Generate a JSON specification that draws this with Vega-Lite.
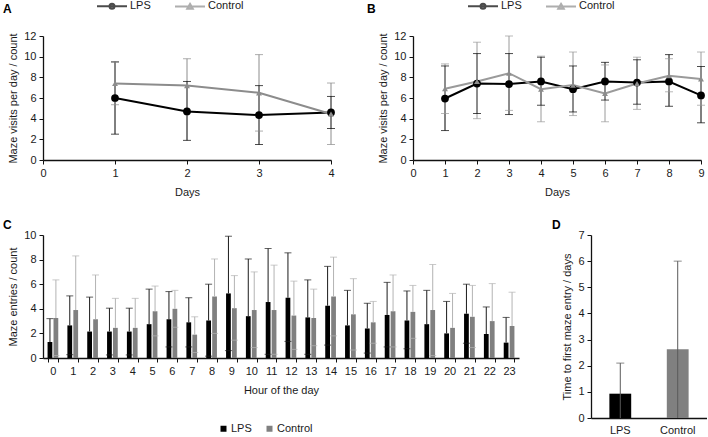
{
"$schema": "https://vega.github.io/schema/vega-lite/v6.json",
"padding": {"left": 3, "top": 0, "right": 0, "bottom": 0},
"config": {
  "font": "Liberation Sans",
  "view": {"stroke": null},
  "axis": {"grid": false, "domainColor": "#111111", "tickColor": "#111111", "labelColor": "#1a1a1a", "titleColor": "#1a1a1a", "labelFontSize": 11, "titleFontSize": 11, "titleFontWeight": "normal", "tickSize": 4, "labelPadding": 3, "domainWidth": 1.3, "titlePadding": 5, "labelOverlap": false, "labelFlush": false},
  "title": {"fontSize": 12, "fontWeight": "bold", "anchor": "start", "frame": "group", "color": "#000000"},
  "legend": {"labelFontSize": 11, "labelColor": "#1a1a1a", "padding": 0}
},
"datasets": {
  "a": [
    {"day": 1, "group": "LPS", "mean": 6.0, "lo": 2.5, "hi": 9.5},
    {"day": 2, "group": "LPS", "mean": 4.7, "lo": 1.9, "hi": 7.6},
    {"day": 3, "group": "LPS", "mean": 4.35, "lo": 1.5, "hi": 7.2},
    {"day": 4, "group": "LPS", "mean": 4.6, "lo": 3.05, "hi": 6.15},
    {"day": 1, "group": "Control", "mean": 7.4, "lo": 5.35, "hi": 9.45},
    {"day": 2, "group": "Control", "mean": 7.2, "lo": 4.6, "hi": 9.8},
    {"day": 3, "group": "Control", "mean": 6.5, "lo": 2.8, "hi": 10.2},
    {"day": 4, "group": "Control", "mean": 4.45, "lo": 1.5, "hi": 7.45}
  ],
  "b": [
    {"day": 1, "group": "LPS", "mean": 5.95, "lo": 2.85, "hi": 9.1},
    {"day": 2, "group": "LPS", "mean": 7.4, "lo": 4.5, "hi": 10.3},
    {"day": 3, "group": "LPS", "mean": 7.35, "lo": 4.4, "hi": 10.3},
    {"day": 4, "group": "LPS", "mean": 7.6, "lo": 5.3, "hi": 9.95},
    {"day": 5, "group": "LPS", "mean": 6.85, "lo": 4.65, "hi": 9.1},
    {"day": 6, "group": "LPS", "mean": 7.6, "lo": 5.8, "hi": 9.45},
    {"day": 7, "group": "LPS", "mean": 7.5, "lo": 5.4, "hi": 9.7},
    {"day": 8, "group": "LPS", "mean": 7.6, "lo": 5.2, "hi": 10.2},
    {"day": 9, "group": "LPS", "mean": 6.25, "lo": 3.6, "hi": 9.05},
    {"day": 1, "group": "Control", "mean": 6.9, "lo": 4.5, "hi": 9.3},
    {"day": 2, "group": "Control", "mean": 7.6, "lo": 4.0, "hi": 11.4},
    {"day": 3, "group": "Control", "mean": 8.4, "lo": 4.8, "hi": 12.0},
    {"day": 4, "group": "Control", "mean": 6.85, "lo": 3.7, "hi": 10.05},
    {"day": 5, "group": "Control", "mean": 7.25, "lo": 4.3, "hi": 10.45},
    {"day": 6, "group": "Control", "mean": 6.45, "lo": 3.7, "hi": 9.2},
    {"day": 7, "group": "Control", "mean": 7.4, "lo": 4.9, "hi": 9.95},
    {"day": 8, "group": "Control", "mean": 8.15, "lo": 6.6, "hi": 9.8},
    {"day": 9, "group": "Control", "mean": 7.85, "lo": 5.3, "hi": 10.45}
  ],
  "c": [
    {"hour": 0, "group": "LPS", "mean": 1.3, "hi": 3.2, "lo": null},
    {"hour": 0, "group": "Control", "mean": 3.25, "hi": 6.35, "lo": 0.2},
    {"hour": 1, "group": "LPS", "mean": 2.65, "hi": 5.05, "lo": 0.27},
    {"hour": 1, "group": "Control", "mean": 3.9, "hi": 8.3, "lo": null},
    {"hour": 2, "group": "LPS", "mean": 2.15, "hi": 4.95, "lo": null},
    {"hour": 2, "group": "Control", "mean": 3.15, "hi": 6.75, "lo": null},
    {"hour": 3, "group": "LPS", "mean": 2.15, "hi": 4.05, "lo": 0.25},
    {"hour": 3, "group": "Control", "mean": 2.45, "hi": 4.85, "lo": null},
    {"hour": 4, "group": "LPS", "mean": 2.15, "hi": 4.05, "lo": 0.25},
    {"hour": 4, "group": "Control", "mean": 2.45, "hi": 4.85, "lo": null},
    {"hour": 5, "group": "LPS", "mean": 2.75, "hi": 5.6, "lo": null},
    {"hour": 5, "group": "Control", "mean": 3.8, "hi": 5.85, "lo": 1.8},
    {"hour": 6, "group": "LPS", "mean": 3.15, "hi": 5.4, "lo": 0.9},
    {"hour": 6, "group": "Control", "mean": 4.0, "hi": 5.5, "lo": 2.5},
    {"hour": 7, "group": "LPS", "mean": 2.9, "hi": 4.9, "lo": 0.9},
    {"hour": 7, "group": "Control", "mean": 1.9, "hi": 3.35, "lo": 0.45},
    {"hour": 8, "group": "LPS", "mean": 3.05, "hi": 6.0, "lo": 0.15},
    {"hour": 8, "group": "Control", "mean": 5.0, "hi": 8.05, "lo": 2.0},
    {"hour": 9, "group": "LPS", "mean": 5.25, "hi": 9.9, "lo": 0.6},
    {"hour": 9, "group": "Control", "mean": 4.05, "hi": 6.7, "lo": 1.45},
    {"hour": 10, "group": "LPS", "mean": 3.4, "hi": 8.05, "lo": null},
    {"hour": 10, "group": "Control", "mean": 3.9, "hi": 7.0, "lo": 0.85},
    {"hour": 11, "group": "LPS", "mean": 4.55, "hi": 8.9, "lo": 0.3},
    {"hour": 11, "group": "Control", "mean": 3.9, "hi": 7.55, "lo": 0.3},
    {"hour": 12, "group": "LPS", "mean": 4.9, "hi": 8.55, "lo": 1.35},
    {"hour": 12, "group": "Control", "mean": 3.45, "hi": 6.25, "lo": 0.7},
    {"hour": 13, "group": "LPS", "mean": 3.3, "hi": 6.35, "lo": 0.3},
    {"hour": 13, "group": "Control", "mean": 3.25, "hi": 5.6, "lo": 1.0},
    {"hour": 14, "group": "LPS", "mean": 4.25, "hi": 7.45, "lo": 1.05},
    {"hour": 14, "group": "Control", "mean": 5.0, "hi": 8.2, "lo": 1.8},
    {"hour": 15, "group": "LPS", "mean": 2.65, "hi": 5.5, "lo": null},
    {"hour": 15, "group": "Control", "mean": 3.55, "hi": 6.45, "lo": 0.65},
    {"hour": 16, "group": "LPS", "mean": 2.4, "hi": 4.45, "lo": 0.4},
    {"hour": 16, "group": "Control", "mean": 2.9, "hi": 4.6, "lo": 1.2},
    {"hour": 17, "group": "LPS", "mean": 3.5, "hi": 6.15, "lo": 0.9},
    {"hour": 17, "group": "Control", "mean": 3.8, "hi": 6.75, "lo": 0.9},
    {"hour": 18, "group": "LPS", "mean": 3.05, "hi": 5.45, "lo": 0.75},
    {"hour": 18, "group": "Control", "mean": 3.75, "hi": 5.9, "lo": 1.6},
    {"hour": 19, "group": "LPS", "mean": 2.75, "hi": 5.5, "lo": null},
    {"hour": 19, "group": "Control", "mean": 3.9, "hi": 7.6, "lo": 0.2},
    {"hour": 20, "group": "LPS", "mean": 2.0, "hi": 4.6, "lo": null},
    {"hour": 20, "group": "Control", "mean": 2.45, "hi": 5.25, "lo": null},
    {"hour": 21, "group": "LPS", "mean": 3.6, "hi": 6.0, "lo": 1.2},
    {"hour": 21, "group": "Control", "mean": 3.35, "hi": 5.9, "lo": 0.85},
    {"hour": 22, "group": "LPS", "mean": 1.95, "hi": 4.15, "lo": null},
    {"hour": 22, "group": "Control", "mean": 3.0, "hi": 6.05, "lo": null},
    {"hour": 23, "group": "LPS", "mean": 1.25, "hi": 3.3, "lo": null},
    {"hour": 23, "group": "Control", "mean": 2.6, "hi": 5.35, "lo": null}
  ],
  "d": [
    {"group": "LPS", "mean": 0.93, "lo": 0, "hi": 2.1},
    {"group": "Control", "mean": 2.63, "lo": 0, "hi": 6.0}
  ]
},
"resolve": {"scale": {"color": "independent", "fill": "independent", "stroke": "independent", "shape": "independent"}, "legend": {"color": "independent", "fill": "independent", "stroke": "independent", "shape": "independent"}},
"spacing": 22,
"vconcat": [
  {
    "spacing": 32,
    "resolve": {"scale": {"color": "independent", "fill": "independent", "stroke": "independent", "shape": "independent"}, "legend": {"color": "independent", "fill": "independent", "stroke": "independent", "shape": "independent"}},
    "hconcat": [
      {
        "width": 288, "height": 124,
        "title": {"text": "A", "dx": -40, "offset": -16},
        "data": {"name": "a"},
        "encoding": {
          "x": {"field": "day", "type": "quantitative", "scale": {"domain": [0, 4], "nice": false}, "axis": {"values": [0, 1, 2, 3, 4], "format": "d", "titlePadding": 8, "labelOverlap": false}, "title": "Days"}
        },
        "layer": [
          {
            "transform": [{"filter": "false"}],
            "mark": {"type": "point", "filled": true, "strokeWidth": 2},
            "encoding": {
              "x": {"value": 0},
              "fill": {"field": "group", "type": "nominal", "scale": {"domain": ["LPS", "Control"], "range": ["#000000", "#8c8c8c"]}, "legend": {"orient": "none", "legendX": 53, "legendY": -36, "direction": "horizontal", "title": null, "symbolSize": 100, "symbolStrokeWidth": 2, "labelOffset": 22, "columnPadding": 20}},
              "stroke": {"field": "group", "type": "nominal", "scale": {"domain": ["LPS", "Control"], "range": ["#000000", "#8c8c8c"]}, "legend": {"orient": "none", "legendX": 53, "legendY": -36, "direction": "horizontal", "title": null, "symbolSize": 100, "symbolStrokeWidth": 2, "labelOffset": 22, "columnPadding": 20}},
              "shape": {"field": "group", "type": "nominal", "scale": {"domain": ["LPS", "Control"], "range": ["M-1,0H5M2.5,0A0.5,0.5,0,1,1,1.5,0A0.5,0.5,0,1,1,2.5,0Z", "M-1,0H5M2,-0.5L2.55,0.45L1.45,0.45Z"]}, "legend": {"orient": "none", "legendX": 53, "legendY": -36, "direction": "horizontal", "title": null, "symbolSize": 100, "symbolStrokeWidth": 2, "labelOffset": 22, "columnPadding": 20}}
            }
          },
          {
            "mark": {"type": "rule", "strokeWidth": 1},
            "encoding": {
              "y": {"field": "lo", "type": "quantitative", "scale": {"domain": [0, 12], "nice": false}, "axis": {"values": [0, 2, 4, 6, 8, 10, 12], "format": "d", "labelOverlap": false}, "title": "Maze visits per day / count"},
              "y2": {"field": "hi"},
              "color": {"field": "group", "type": "nominal", "scale": {"domain": ["LPS", "Control"], "range": ["#000000", "#8c8c8c"]}, "legend": null}
            }
          },
          {
            "mark": {"type": "tick", "orient": "horizontal", "size": 8, "thickness": 1},
            "encoding": {
              "y": {"field": "hi", "type": "quantitative", "axis": {"values": [0, 2, 4, 6, 8, 10, 12], "format": "d", "labelOverlap": false}, "title": "Maze visits per day / count"},
              "color": {"field": "group", "type": "nominal", "legend": null}
            }
          },
          {
            "mark": {"type": "tick", "orient": "horizontal", "size": 8, "thickness": 1},
            "encoding": {
              "y": {"field": "lo", "type": "quantitative", "axis": {"values": [0, 2, 4, 6, 8, 10, 12], "format": "d", "labelOverlap": false}, "title": "Maze visits per day / count"},
              "color": {"field": "group", "type": "nominal", "legend": null}
            }
          },
          {
            "mark": {"type": "line", "strokeWidth": 2},
            "encoding": {
              "y": {"field": "mean", "type": "quantitative", "axis": {"values": [0, 2, 4, 6, 8, 10, 12], "format": "d", "labelOverlap": false}, "title": "Maze visits per day / count"},
              "color": {"field": "group", "type": "nominal", "legend": null}
            }
          },
          {
            "transform": [{"filter": "datum.group === 'LPS'"}],
            "mark": {"type": "point", "shape": "circle", "filled": true, "size": 60, "color": "#000000", "opacity": 1},
            "encoding": {
              "y": {"field": "mean", "type": "quantitative", "axis": {"values": [0, 2, 4, 6, 8, 10, 12], "format": "d", "labelOverlap": false}, "title": "Maze visits per day / count"}
            }
          },
          {
            "transform": [{"filter": "datum.group === 'Control'"}],
            "mark": {"type": "point", "shape": "triangle-up", "filled": true, "size": 35, "color": "#8c8c8c", "opacity": 1},
            "encoding": {
              "y": {"field": "mean", "type": "quantitative", "axis": {"values": [0, 2, 4, 6, 8, 10, 12], "format": "d", "labelOverlap": false}, "title": "Maze visits per day / count"}
            }
          }
        ]
      },
      {
        "width": 288, "height": 124,
        "title": {"text": "B", "dx": -46, "offset": -16},
        "data": {"name": "b"},
        "encoding": {
          "x": {"field": "day", "type": "quantitative", "scale": {"domain": [0, 9], "nice": false}, "axis": {"values": [0, 1, 2, 3, 4, 5, 6, 7, 8, 9], "format": "d", "titlePadding": 8, "labelOverlap": false}, "title": "Days"}
        },
        "layer": [
          {
            "transform": [{"filter": "false"}],
            "mark": {"type": "point", "filled": true, "strokeWidth": 2},
            "encoding": {
              "x": {"value": 0},
              "fill": {"field": "group", "type": "nominal", "scale": {"domain": ["LPS", "Control"], "range": ["#000000", "#8c8c8c"]}, "legend": {"orient": "none", "legendX": 54, "legendY": -36, "direction": "horizontal", "title": null, "symbolSize": 100, "symbolStrokeWidth": 2, "labelOffset": 22, "columnPadding": 20}},
              "stroke": {"field": "group", "type": "nominal", "scale": {"domain": ["LPS", "Control"], "range": ["#000000", "#8c8c8c"]}, "legend": {"orient": "none", "legendX": 54, "legendY": -36, "direction": "horizontal", "title": null, "symbolSize": 100, "symbolStrokeWidth": 2, "labelOffset": 22, "columnPadding": 20}},
              "shape": {"field": "group", "type": "nominal", "scale": {"domain": ["LPS", "Control"], "range": ["M-1,0H5M2.5,0A0.5,0.5,0,1,1,1.5,0A0.5,0.5,0,1,1,2.5,0Z", "M-1,0H5M2,-0.5L2.55,0.45L1.45,0.45Z"]}, "legend": {"orient": "none", "legendX": 54, "legendY": -36, "direction": "horizontal", "title": null, "symbolSize": 100, "symbolStrokeWidth": 2, "labelOffset": 22, "columnPadding": 20}}
            }
          },
          {
            "mark": {"type": "rule", "strokeWidth": 1},
            "encoding": {
              "y": {"field": "lo", "type": "quantitative", "scale": {"domain": [0, 12], "nice": false}, "axis": {"values": [0, 2, 4, 6, 8, 10, 12], "format": "d", "labelOverlap": false}, "title": "Maze visits per day / count"},
              "y2": {"field": "hi"},
              "color": {"field": "group", "type": "nominal", "scale": {"domain": ["LPS", "Control"], "range": ["#000000", "#9a9a9a"]}, "legend": null}
            }
          },
          {
            "mark": {"type": "tick", "orient": "horizontal", "size": 8, "thickness": 1},
            "encoding": {
              "y": {"field": "hi", "type": "quantitative", "axis": {"values": [0, 2, 4, 6, 8, 10, 12], "format": "d", "labelOverlap": false}, "title": "Maze visits per day / count"},
              "color": {"field": "group", "type": "nominal", "legend": null}
            }
          },
          {
            "mark": {"type": "tick", "orient": "horizontal", "size": 8, "thickness": 1},
            "encoding": {
              "y": {"field": "lo", "type": "quantitative", "axis": {"values": [0, 2, 4, 6, 8, 10, 12], "format": "d", "labelOverlap": false}, "title": "Maze visits per day / count"},
              "color": {"field": "group", "type": "nominal", "legend": null}
            }
          },
          {
            "mark": {"type": "line", "strokeWidth": 2},
            "encoding": {
              "y": {"field": "mean", "type": "quantitative", "axis": {"values": [0, 2, 4, 6, 8, 10, 12], "format": "d", "labelOverlap": false}, "title": "Maze visits per day / count"},
              "color": {"field": "group", "type": "nominal", "legend": null}
            }
          },
          {
            "transform": [{"filter": "datum.group === 'LPS'"}],
            "mark": {"type": "point", "shape": "circle", "filled": true, "size": 60, "color": "#000000", "opacity": 1},
            "encoding": {
              "y": {"field": "mean", "type": "quantitative", "axis": {"values": [0, 2, 4, 6, 8, 10, 12], "format": "d", "labelOverlap": false}, "title": "Maze visits per day / count"}
            }
          },
          {
            "transform": [{"filter": "datum.group === 'Control'"}],
            "mark": {"type": "point", "shape": "triangle-up", "filled": true, "size": 35, "color": "#8c8c8c", "opacity": 1},
            "encoding": {
              "y": {"field": "mean", "type": "quantitative", "axis": {"values": [0, 2, 4, 6, 8, 10, 12], "format": "d", "labelOverlap": false}, "title": "Maze visits per day / count"}
            }
          }
        ]
      }
    ]
  },
  {
    "spacing": 33,
    "resolve": {"scale": {"color": "independent", "fill": "independent", "stroke": "independent", "shape": "independent"}, "legend": {"color": "independent", "fill": "independent", "stroke": "independent", "shape": "independent"}},
    "hconcat": [
      {
        "width": 476, "height": 123,
        "title": {"text": "C", "dx": -40, "offset": -3},
        "data": {"name": "c"},
        "encoding": {
          "x": {"field": "hour", "type": "ordinal", "scale": {"paddingInner": 0.46, "paddingOuter": 0.23}, "axis": {"labelAngle": 0, "tickBand": "extent", "titlePadding": 8}, "title": "Hour of the day"},
          "xOffset": {"field": "group", "type": "nominal", "scale": {"domain": ["LPS", "Control"], "paddingInner": 0.2, "paddingOuter": 0}}
        },
        "layer": [
          {
            "mark": {"type": "bar"},
            "encoding": {
              "y": {"field": "mean", "type": "quantitative", "scale": {"domain": [0, 10], "nice": false}, "axis": {"values": [0, 2, 4, 6, 8, 10], "format": "d", "labelOverlap": false}, "title": "Maze entries / count"},
              "color": {"field": "group", "type": "nominal", "scale": {"domain": ["LPS", "Control"], "range": ["#000000", "#808080"]}, "legend": {"orient": "none", "legendX": 175, "legendY": 188, "direction": "horizontal", "title": null, "symbolType": "square", "symbolSize": 36, "symbolStrokeWidth": 0, "labelOffset": 2, "columnPadding": 12}}
            }
          },
          {
            "mark": {"type": "rule", "strokeWidth": 1},
            "encoding": {
              "y": {"field": "mean", "type": "quantitative", "axis": {"values": [0, 2, 4, 6, 8, 10], "format": "d", "labelOverlap": false}, "title": "Maze entries / count"},
              "y2": {"field": "hi"},
              "stroke": {"field": "group", "type": "nominal", "scale": {"domain": ["LPS", "Control"], "range": ["#1a1a1a", "#b3b3b3"]}, "legend": null}
            }
          },
          {
            "mark": {"type": "tick", "orient": "horizontal", "size": 7, "thickness": 1},
            "encoding": {
              "y": {"field": "hi", "type": "quantitative", "axis": {"values": [0, 2, 4, 6, 8, 10], "format": "d", "labelOverlap": false}, "title": "Maze entries / count"},
              "fill": {"field": "group", "type": "nominal", "scale": {"domain": ["LPS", "Control"], "range": ["#1a1a1a", "#b3b3b3"]}, "legend": null}
            }
          },
          {
            "mark": {"type": "tick", "orient": "horizontal", "size": 7, "thickness": 1},
            "encoding": {
              "y": {"field": "lo", "type": "quantitative", "axis": {"values": [0, 2, 4, 6, 8, 10], "format": "d", "labelOverlap": false}, "title": "Maze entries / count"},
              "fill": {"field": "group", "type": "nominal", "legend": null}
            }
          }
        ]
      },
      {
        "width": 116, "height": 183,
        "title": {"text": "D", "dx": -39, "offset": -3},
        "data": {"name": "d"},
        "encoding": {
          "x": {"field": "group", "type": "nominal", "sort": ["LPS", "Control"], "scale": {"paddingInner": 0.62, "paddingOuter": 0.32}, "axis": {"labelAngle": 0, "ticks": false, "tickSize": 0, "labelPadding": 6}, "title": null}
        },
        "layer": [
          {
            "mark": {"type": "bar"},
            "encoding": {
              "y": {"field": "mean", "type": "quantitative", "scale": {"domain": [0, 7], "nice": false}, "axis": {"values": [0, 1, 2, 3, 4, 5, 6, 7], "format": "d", "labelOverlap": false}, "title": "Time to first maze entry / days"},
              "color": {"field": "group", "type": "nominal", "scale": {"domain": ["LPS", "Control"], "range": ["#000000", "#808080"]}, "legend": null}
            }
          },
          {
            "mark": {"type": "rule", "strokeWidth": 1, "color": "#5a5a5a"},
            "encoding": {
              "y": {"field": "lo", "type": "quantitative", "axis": {"values": [0, 1, 2, 3, 4, 5, 6, 7], "format": "d", "labelOverlap": false}, "title": "Time to first maze entry / days"},
              "y2": {"field": "hi"}
            }
          },
          {
            "mark": {"type": "tick", "orient": "horizontal", "size": 8, "thickness": 1, "color": "#5a5a5a"},
            "encoding": {
              "y": {"field": "hi", "type": "quantitative", "axis": {"values": [0, 1, 2, 3, 4, 5, 6, 7], "format": "d", "labelOverlap": false}, "title": "Time to first maze entry / days"}
            }
          }
        ]
      }
    ]
  }
]
}
